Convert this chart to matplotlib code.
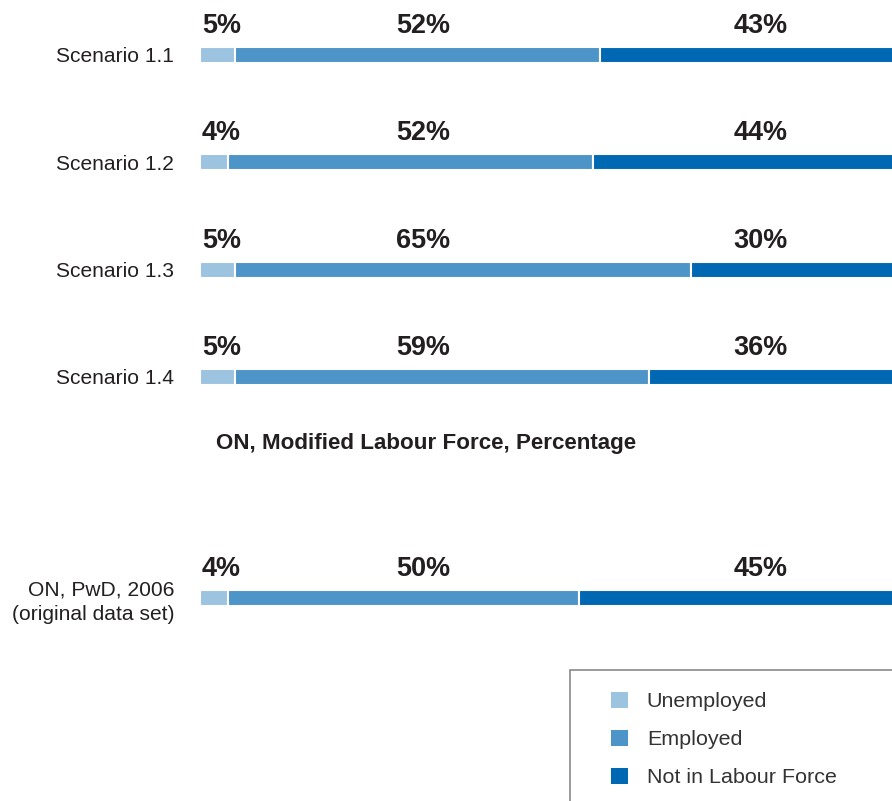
import matplotlib
matplotlib.use("Agg")
import matplotlib.pyplot as plt
from matplotlib.patches import Rectangle, Patch

# ---- data ----
categories = ["Scenario 1.1", "Scenario 1.2", "Scenario 1.3", "Scenario 1.4",
              "ON, PwD, 2006\n(original data set)"]
unemployed = [5, 4, 5, 5, 4]
employed = [52, 52, 65, 59, 50]
not_in_lf = [43, 44, 30, 36, 45]
series_names = ["Unemployed", "Employed", "Not in Labour Force"]
title = "ON, Modified Labour Force, Percentage"

# ---- style ----
colors = ["#9cc3df", "#4d94c8", "#0068b3"]
text_color = "#231f20"
W, H = 892, 801
DPI = 100
px = 72.0 / DPI  # points per pixel

plt.rcParams['font.family'] = ['Liberation Sans', 'DejaVu Sans']

fig = plt.figure(figsize=(W / DPI, H / DPI), dpi=DPI)
fig.patch.set_facecolor("white")

# axes from x=200px to x=902px (right end runs past the figure edge), full height
ax = fig.add_axes([200 / W, 0, 702 / W, 1])
ax.set_xlim(0, 100)
y0, step = 55, 107.3
ypos = [0, 1, 2, 3, (598 - y0) / step]
ax.set_ylim((H - y0) / step, (0 - y0) / step)
bar_h = 16 / step

series = [unemployed, employed, not_in_lf]
left = [0] * len(categories)
for vals, col, name in zip(series, colors, series_names):
    ax.barh(ypos, vals, left=left, height=bar_h, color=col,
            edgecolor="white", linewidth=1.5, label=name)
    left = [l + v for l, v in zip(left, vals)]

# percentage labels in three fixed columns above each bar
label_x = [3.06, 31.8, 79.8]
for i, y in enumerate(ypos):
    for j, vals in enumerate(series):
        ax.annotate(f"{vals[i]}%", xy=(label_x[j], y), xytext=(0, 22 * px),
                    textcoords="offset points", ha="center", va="baseline",
                    fontsize=27 * px, fontweight="bold", color=text_color,
                    family=['Liberation Sans Narrow', 'Liberation Sans', 'DejaVu Sans'])

ax.set_yticks(ypos)
ax.set_yticklabels(categories, fontsize=21 * px, color=text_color,
                   linespacing=1.3)
ax.tick_params(axis="y", length=0, pad=26 * px)
ax.set_xticks([])
for s in ax.spines.values():
    s.set_visible(False)

fig.text(426 / W, 1 - 444 / H, title, ha="center", va="center",
         fontsize=22.4 * px, fontweight="bold", color=text_color)

# legend box (runs past the right and bottom edges)
box = Rectangle((570 / W, -0.05), 0.5, 1 - 670 / H + 0.05,
                transform=fig.transFigure, facecolor="white",
                edgecolor="#8a8a8a", linewidth=1.2)
fig.patches.append(box)
handles = [Patch(facecolor=c, edgecolor="none") for c in colors]
leg = fig.legend(handles, series_names, loc="upper left",
                 bbox_to_anchor=(600 / W, 1 - 681 / H),
                 frameon=False, fontsize=21.5 * px, labelcolor="#333333",
                 handlelength=0.78, handleheight=0.78, handletextpad=0.9,
                 labelspacing=0.86, borderpad=0)

fig.savefig("out.png", dpi=DPI, facecolor="white")
